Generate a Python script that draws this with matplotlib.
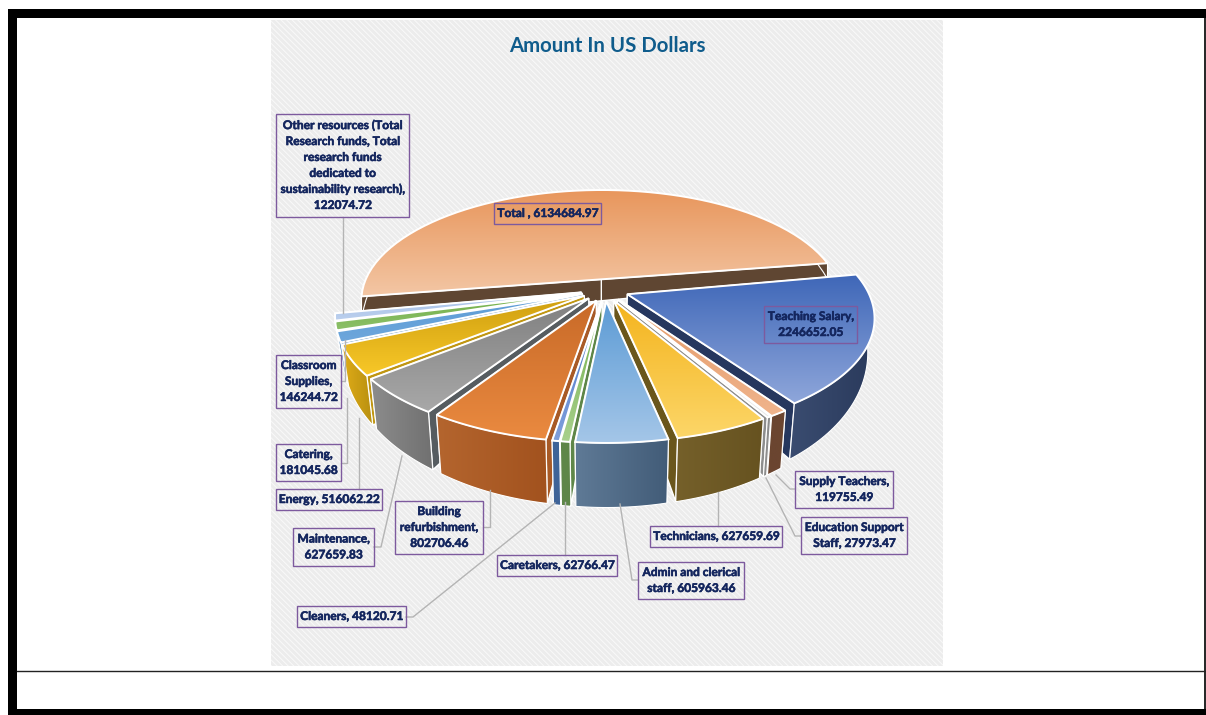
import numpy as np
import matplotlib
matplotlib.use("Agg")
import matplotlib.pyplot as plt
import matplotlib.patheffects as pe
from matplotlib.patches import Polygon, Rectangle

# data, clockwise from the right hand tip of the Total slice
names = ["Total ", "Teaching Salary", "Supply Teachers", "Education Support Staff", "Technicians",
         "Admin and clerical staff", "Caretakers", "Cleaners", "Building refurbishment", "Maintenance",
         "Energy", "Catering", "Classroom Supplies",
         "Other resources (Total Research funds, Total research funds dedicated to sustainability research)"]
amounts = [6134684.97, 2246652.05, 119755.49, 27973.47, 627659.69, 605963.46, 62766.47, 48120.71,
           802706.46, 627659.83, 516062.22, 181045.68, 146244.72, 122074.72]

# label text as broken in the picture
label_text = ["Total , 6134684.97", "Teaching Salary,\n2246652.05", "Supply Teachers,\n119755.49",
              "Education Support\nStaff, 27973.47", "Technicians, 627659.69",
              "Admin and clerical\nstaff, 605963.46", "Caretakers, 62766.47", "Cleaners, 48120.71",
              "Building\nrefurbishment,\n802706.46", "Maintenance,\n627659.83", "Energy, 516062.22",
              "Catering,\n181045.68", "Classroom\nSupplies,\n146244.72",
              "Other resources (Total\nResearch funds, Total\nresearch funds\ndedicated to\nsustainability research),\n122074.72"]
label_box = [(494, 203, 601, 224), (764, 306, 857, 343), (795, 471, 893, 508), (801, 517, 907, 554),
             (650, 526, 782, 547), (638, 562, 744, 599), (497, 555, 617, 576), (297, 606, 406, 627),
             (395, 501, 483, 554), (293, 528, 374, 566), (276, 489, 382, 510), (276, 444, 341, 481),
             (276, 355, 341, 408), (276, 114, 409, 217)]
leaders = [None, None, [(795, 489), (790, 489), (776, 475)], [(801, 536), (795, 536), (766, 478)],
           [(718, 526), (718, 492)], [(638, 580), (632, 580), (620, 504)], [(565, 555), (565, 502)],
           [(406, 617), (413, 617), (555, 503)], [(483, 527), (490, 527), (490, 490)],
           [(374, 547), (381, 547), (402, 456)], [(359, 489), (359, 418)],
           [(341, 463), (347, 463), (347, 398)], [(341, 381), (345, 381), (345, 340)], [(343, 217), (343, 313)]]

# top dark, top light, side a, side b, radial wall
shades = [("#e8965c", "#f3c6a4", "#5f4632", "#5f4632", "#5f4632"),
          ("#3f67b8", "#8ea6da", "#3a4c70", "#2a3a5c", "#26375e"),
          ("#e39a68", "#f0b48c", "#6b4530", "#6b4530", "#6b4530"),
          ("#d8d8d8", "#e8e8e8", "#8d8d8d", "#8d8d8d", "#8d8d8d"),
          ("#f4b41e", "#fcd668", "#75602a", "#665220", "#6a561c"),
          ("#5c9bd5", "#a4c6e8", "#5f7a96", "#425c78", "#425c78"),
          ("#70ad47", "#a8d08d", "#5e8648", "#5e8648", "#5e8648"),
          ("#4472c4", "#7f9fdc", "#3f6498", "#3f6498", "#3f6498"),
          ("#c86a28", "#ea8a40", "#b4652e", "#a2521e", "#a85a26"),
          ("#808080", "#a8a8a8", "#8c8c8c", "#707070", "#565c60"),
          ("#cf9f10", "#f8c828", "#e0ac18", "#b89010", "#c09612"),
          ("#5b9bd5", "#6ea7dc", "#4a80b4", "#4a80b4", "#4a80b4"),
          ("#70ad47", "#8cc068", "#5e8e3e", "#5e8e3e", "#5e8e3e"),
          ("#a5bfe6", "#bcd0ee", "#7f98c0", "#7f98c0", "#7f98c0")]

# picture layout
cx, cy = 605, 290
rad_x, rad_y = 240, 110
persp = 0.19
explode = 0.10
total_angle = 9.0
first_angle = 10.5


def project(u, v):
    s = 1 / (1 - persp * v)
    return cx + rad_x * u * s, cy + rad_y * v * s


def lower(x, y, v, shrink):
    # bottom face: depth grows towards the viewer, slightly pulled to the middle
    depth = np.clip(25 + 36 * v, 6, None)
    return cx + (x - cx) * shrink, y + depth


def fill_gradient(ax, pts, col_a, col_b, horizontal, zorder):
    poly = Polygon(pts, closed=True, facecolor="none", edgecolor="none", zorder=zorder)
    ax.add_patch(poly)
    c0 = np.array(matplotlib.colors.to_rgb(col_a))
    c1 = np.array(matplotlib.colors.to_rgb(col_b))
    t = np.linspace(0, 1, 64)[:, None]
    strip = (c0 * (1 - t) + c1 * t)
    img = strip[None, :, :] if horizontal else strip[:, None, :]
    xs, ys = pts[:, 0], pts[:, 1]
    im = ax.imshow(img, extent=(xs.min(), xs.max(), ys.max(), ys.min()), aspect="auto", zorder=zorder,
                   interpolation="bilinear")
    im.set_clip_path(poly)


def draw_slice(ax, a0, a1, shade, zorder, shrink=0.975):
    mid = np.radians((a0 + a1) / 2)
    eu, ev = explode * np.cos(mid), -explode * np.sin(mid)
    ang = np.radians(np.linspace(a0, a1, 60))
    rim_u, rim_v = eu + np.cos(ang), ev - np.sin(ang)
    rim_x, rim_y = project(rim_u, rim_v)
    apex_x, apex_y = project(eu, ev)
    rim_bx, rim_by = lower(rim_x, rim_y, rim_v, shrink)
    apex_bx, apex_by = lower(apex_x, apex_y, ev, shrink)

    # radial walls, the further one first
    walls = [0, -1]
    walls.sort(key=lambda i: rim_y[i])
    for i in walls:
        wall = np.array([(apex_x, apex_y), (rim_x[i], rim_y[i]), (rim_bx[i], rim_by[i]), (apex_bx, apex_by)])
        ax.add_patch(Polygon(wall, closed=True, facecolor=shade[4], edgecolor="white", lw=1.0, zorder=zorder))

    # outer wall
    wall = np.vstack([np.column_stack([rim_x, rim_y]), np.column_stack([rim_bx, rim_by])[::-1]])
    fill_gradient(ax, wall, shade[2], shade[3], True, zorder + 0.1)
    ax.add_patch(Polygon(wall, closed=True, fill=False, edgecolor="white", lw=0.8, zorder=zorder + 0.2))

    # top face
    top = np.vstack([[(apex_x, apex_y)], np.column_stack([rim_x, rim_y])])
    fill_gradient(ax, top, shade[0], shade[1], False, zorder + 0.3)
    ax.add_patch(Polygon(top, closed=True, fill=False, edgecolor="white", lw=1.4, zorder=zorder + 0.4))


fig = plt.figure(figsize=(12.06, 7.15), dpi=100)
ax = fig.add_axes([0, 0, 1, 1])
ax.set_xlim(0, 1206)
ax.set_ylim(715, 0)
ax.axis("off")

# page frame
ax.add_patch(Rectangle((8, 9), 9, 702, color="black", lw=0, zorder=30))
ax.add_patch(Rectangle((8, 9), 1198, 9, color="black", lw=0, zorder=30))
ax.add_patch(Rectangle((8, 709), 1198, 6, color="black", lw=0, zorder=30))
ax.plot([1205, 1205], [18, 709], color="black", lw=1.2, zorder=30)
ax.plot([17, 1206], [671, 671], color="#222222", lw=1.0, zorder=30)

# chart area
plt.rcParams["hatch.linewidth"] = 0.7
ax.add_patch(Rectangle((271, 20), 672, 646, facecolor="#ececec", edgecolor="#f9f9f9", hatch="\\\\\\\\\\\\", lw=0, zorder=1))
ax.text(607, 46, "Amount In US Dollars", family="Lato", weight="bold", fontsize=14.7, color="#0f5c8c",
        ha="center", va="center", zorder=20)

# slice angles come from the amounts
spans = np.array(amounts) / np.sum(amounts) * 360
starts = first_angle - np.cumsum(np.r_[0, spans[1:]])[:-1]
stops = starts - spans[1:]

mids = (starts + stops) / 2
order_rest = sorted(range(len(mids)), key=lambda i: -np.sin(np.radians(mids[i])))
draw_slice(ax, total_angle + spans[0], total_angle, shades[0], 2, shrink=1.0)
for n, i in enumerate(order_rest):
    draw_slice(ax, starts[i], stops[i], shades[i + 1], 3 + n)

# leader lines and label boxes
for pts in leaders:
    if pts is None:
        continue
    xs, ys = zip(*pts)
    ax.plot(xs, ys, color="#b4b4b4", lw=1.0, zorder=18)

for text, (x0, y0, x1, y1) in zip(label_text, label_box):
    ax.add_patch(Rectangle((x0, y0), x1 - x0, y1 - y0, fill=False, edgecolor="#7d5a9e", lw=1.0, zorder=19))
    t = ax.text((x0 + x1) / 2, (y0 + y1) / 2, text, family="Lato", weight="bold", fontsize=8.6, color="#14265e",
                ha="center", va="center", linespacing=1.55, zorder=20)
    t.set_path_effects([pe.withStroke(linewidth=0.4, foreground="#14265e")])

fig.savefig("out.png", dpi=100)
